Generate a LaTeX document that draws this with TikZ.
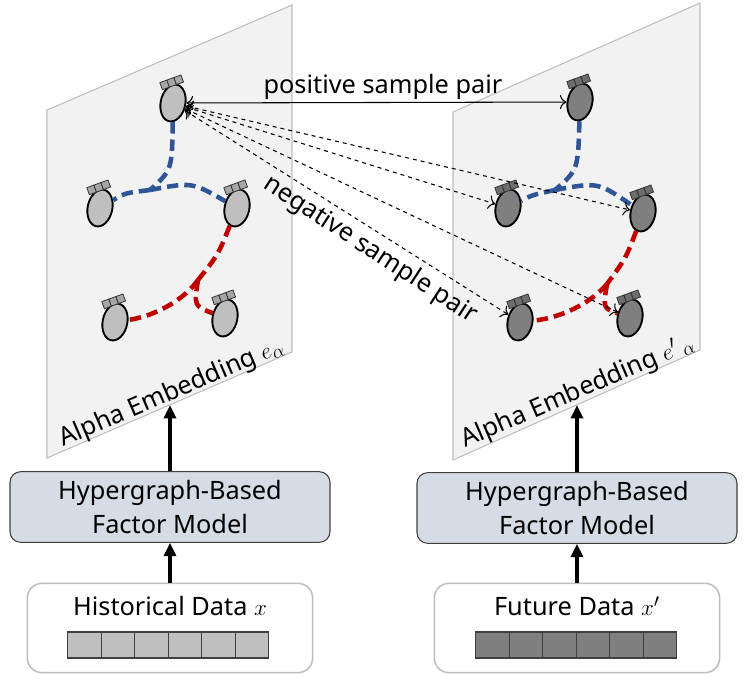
\documentclass[tikz,border=0pt]{standalone}
\usepackage{fontspec}
\setmainfont{Noto Sans}
\usetikzlibrary{arrows.meta,shapes.geometric}
\definecolor{PlaneFill}{HTML}{F2F2F2}
\definecolor{PlaneLine}{HTML}{BFBFBF}
\definecolor{LightNode}{HTML}{BFBFBF}
\definecolor{DarkNode}{HTML}{7F7F7F}
\definecolor{LightBar}{HTML}{A6A6A6}
\definecolor{DarkBar}{HTML}{6E6E6E}
\definecolor{EdgeBlue}{HTML}{2F5597}
\definecolor{EdgeRed}{HTML}{C00000}
\definecolor{ModelFill}{HTML}{D6DCE5}
\tikzset{
  cells/.pic={\foreach \k in {0,1,2}{\draw[pic actions] (\k*7.5-11.25,-3.75) rectangle ++(7.5,7.5);}},
}

\begin{document}
\begin{tikzpicture}[x=0.75pt,y=-0.75pt,font=\fontsize{19}{25}\selectfont,
    plane/.style={draw=PlaneLine,fill=PlaneFill,line width=0.8pt},
    emb/.style={ellipse,draw,line width=1.4pt,minimum width=18.5pt,minimum height=28pt,inner sep=0pt,rotate=-12},
    hyper/.style={line width=3.4pt,dash pattern=on 8.5pt off 4.5pt},
    pair/.style={line width=0.8pt,{To[length=5pt]}-{To[length=5pt]}},
    feed/.style={line width=2.8pt,-{Triangle[length=10pt,width=9pt]}},
    model/.style={draw=black!75,fill=ModelFill,rounded corners=8pt,line width=0.8pt,
      minimum width=240pt,minimum height=53pt,align=center},
    data/.style={draw=PlaneLine,fill=white,rounded corners=11pt,line width=1.2pt,
      minimum width=214pt,minimum height=67pt},
    cell/.style={draw=black!75,line width=0.8pt,minimum width=25pt,minimum height=19.5pt,inner sep=0pt}]
  \useasboundingbox (0,0) rectangle (747,689);

  % embedding planes
  \draw[plane] (47,110) -- (292,5) -- (292,352) -- (47,458) -- cycle;
  \draw[plane] (453,112) -- (700,3) -- (700,350) -- (453,460) -- cycle;
  \coordinate (lbot) at (170,405);
  \coordinate (rbot) at (577,405);

  % left embeddings
  \node[emb,fill=LightNode] (la) at (173,103) {};
  \node[emb,fill=LightNode] (lb) at (100,208) {};
  \node[emb,fill=LightNode] (lc) at (237,208) {};
  \node[emb,fill=LightNode] (ld) at (115,322) {};
  \node[emb,fill=LightNode] (le) at (225,318) {};
  \coordinate (lj1) at (150,190);
  \coordinate (lj2) at (198,280);

  % right embeddings
  \node[emb,fill=DarkNode] (ra) at (580,102) {};
  \node[emb,fill=DarkNode] (rb) at (508,208) {};
  \node[emb,fill=DarkNode] (rc) at (643,213) {};
  \node[emb,fill=DarkNode] (rd) at (520,322) {};
  \node[emb,fill=DarkNode] (re) at (630,318) {};
  \coordinate (rj1) at (555,190);
  \coordinate (rj2) at (607,284);

  \foreach \n in {la,lb,lc,ld,le}
    \pic[fill=LightBar,draw=black!80,line width=0.6pt,rotate=20] at ([xshift=-1pt,yshift=15.5pt]\n.center) {cells};
  \foreach \n in {ra,rb,rc,rd,re}
    \pic[fill=DarkBar,draw=black!80,line width=0.6pt,rotate=20] at ([xshift=-1pt,yshift=15.5pt]\n.center) {cells};

  % hyperedges
  \draw[hyper,EdgeBlue] (la) .. controls (172,170) .. (lj1);
  \draw[hyper,EdgeBlue] (lj1) .. controls (125,193) .. (lb);
  \draw[hyper,EdgeBlue] (lj1) .. controls (192,182) .. (lc);
  \draw[hyper,EdgeRed] (lc) .. controls (218,255) .. (lj2);
  \draw[hyper,EdgeRed] (lj2) .. controls (184,300) and (155,316) .. (ld);
  \draw[hyper,EdgeRed] (lj2) .. controls (194,306) .. (le);

  \draw[hyper,EdgeBlue] (ra) .. controls (578,170) .. (rj1);
  \draw[hyper,EdgeBlue] (rj1) .. controls (532,195) .. (rb);
  \draw[hyper,EdgeBlue] (rj1) .. controls (598,182) .. (rc);
  \draw[hyper,EdgeRed] (rc) .. controls (626,258) .. (rj2);
  \draw[hyper,EdgeRed] (rj2) .. controls (590,304) and (560,318) .. (rd);
  \draw[hyper,EdgeRed] (rj2) .. controls (603,308) .. (re);

  % sample pairs
  \draw[pair] (la) -- (ra);
  \foreach \t in {rb,rc,rd,re}
    \draw[pair,dashed] (la) -- (\t);
  \node (pos) at (383,87) {positive sample pair};
  \node[rotate=-33] (neg) at (370,250) {negative sample pair};
  \node[rotate=23.4] (lemb) at (172,393) {Alpha Embedding $e_{\alpha}$};
  \node[rotate=23.4] (remb) at (578,392) {Alpha Embedding $e'\,{}_{\alpha}$};

  % encoders and inputs
  \node[model] (lmodel) at (170,507) {Hypergraph-Based\\Factor Model};
  \node[model] (rmodel) at (577,508) {Hypergraph-Based\\Factor Model};
  \node[data] (hist) at (170,628) {};
  \node[data] (fut) at (577,628) {};
  \node (histtxt) at (170,606) {Historical Data $x$};
  \node (futtxt) at (577,606) {Future Data $x'$};
  \foreach \i in {1,...,6}{
    \node[cell,fill=LightNode] (hc\i) at (51+\i*33.5,645) {};
    \node[cell,fill=DarkNode] (fc\i) at (459+\i*33.5,645) {};
  }

  \draw[feed] (hist) -- (lmodel);
  \draw[feed] (fut) -- (rmodel);
  \draw[feed] (lmodel) -- (lbot);
  \draw[feed] (rmodel) -- (rbot);
\end{tikzpicture}
\end{document}
